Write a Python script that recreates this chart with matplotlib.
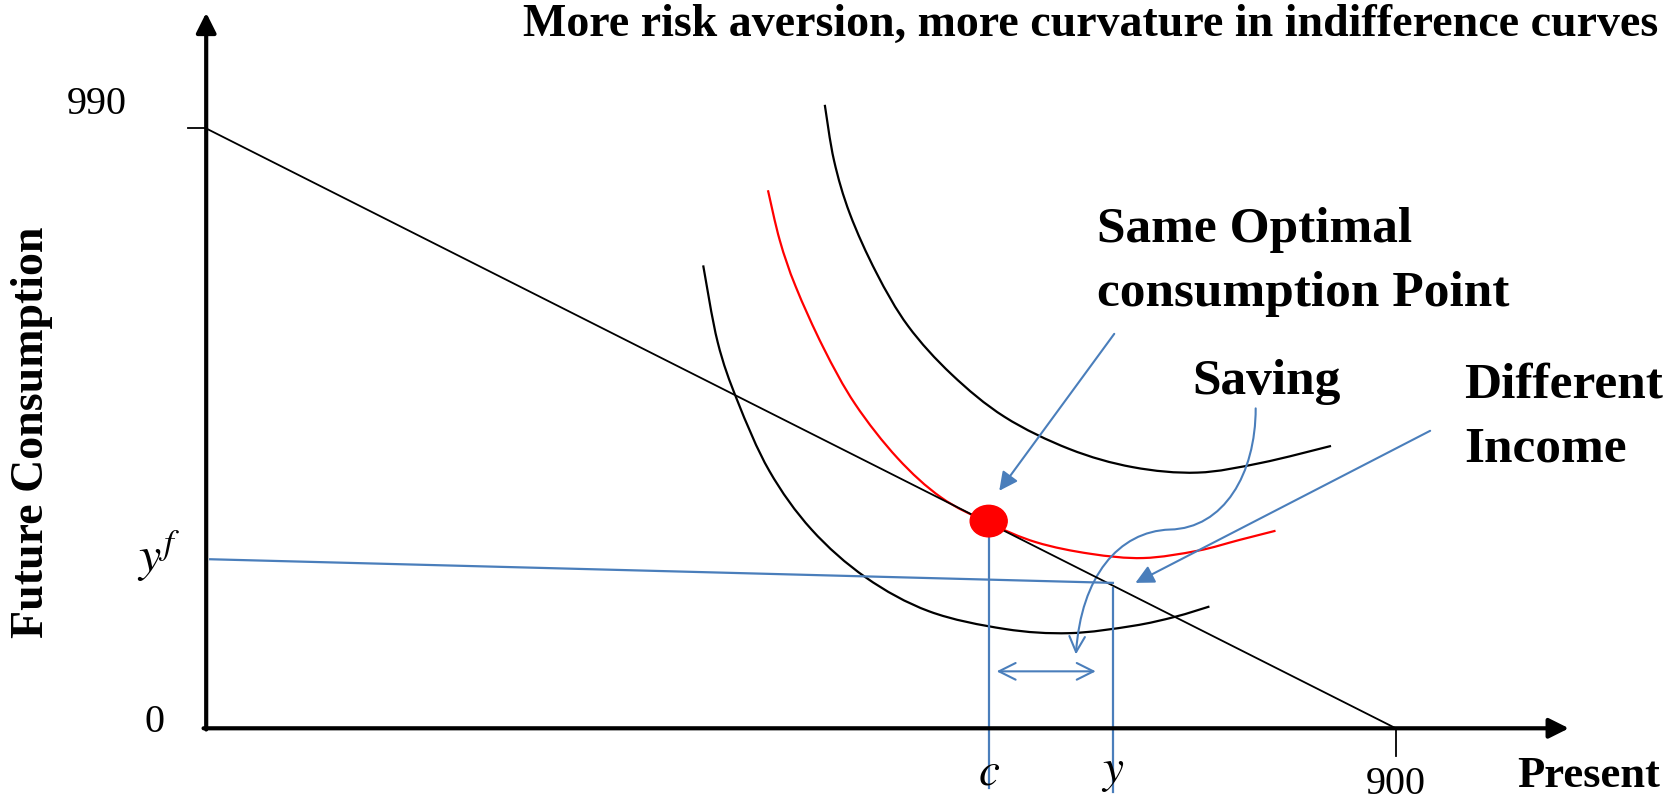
import matplotlib.pyplot as plt
from matplotlib.patches import FancyArrowPatch, PathPatch, Ellipse
from matplotlib.path import Path

# budget line end points (present, future)
budget_x = [0, 900]
budget_y = [990, 0]

# indifference curves
low_x = [376, 387, 402, 426, 458, 499, 547, 604, 653, 701, 733, 759]
low_y = [764, 637, 540, 425, 328, 249, 193, 164, 157, 169, 184, 201]

red_x = [425, 434, 446, 467, 491, 523, 556, 592, 628, 669, 709, 750, 782, 809]
red_y = [888, 805, 729, 628, 535, 446, 381, 339, 307, 288, 281, 293, 311, 326]

high_x = [468, 475, 487, 507, 531, 564, 604, 653, 701, 750, 798, 851]
high_y = [1029, 937, 849, 752, 664, 584, 514, 461, 431, 422, 438, 466]

# optimum and endowment
c_val, c_fut = 592, 342
y_val, yf_left, yf_right = 686, 279, 240

blue = '#4A7EBB'
serif = ['Liberation Serif', 'DejaVu Serif']
plt.rcParams['mathtext.fontset'] = 'stix'


def smooth_path(xs, ys):
    # catmull-rom through the read points, drawn as cubic bezier pieces
    pts = list(zip(xs, ys))
    verts = [pts[0]]
    codes = [Path.MOVETO]
    for i in range(len(pts) - 1):
        p0 = pts[i - 1] if i > 0 else pts[i]
        p1, p2 = pts[i], pts[i + 1]
        p3 = pts[i + 2] if i + 2 < len(pts) else pts[i + 1]
        c1 = (p1[0] + (p2[0] - p0[0]) / 6, p1[1] + (p2[1] - p0[1]) / 6)
        c2 = (p2[0] - (p3[0] - p1[0]) / 6, p2[1] - (p3[1] - p1[1]) / 6)
        verts += [c1, c2, p2]
        codes += [Path.CURVE4] * 3
    return Path(verts, codes)


fig = plt.figure(figsize=(16.76, 8.01), dpi=100)
ax = fig.add_axes([0, 0, 1, 1])
ax.set_xlim(-156, 1112)
ax.set_ylim(-120, 1202)
ax.axis('off')

# axes with arrows
ax.annotate('', xy=(1031, 0), xytext=(-2, 0),
            arrowprops=dict(arrowstyle='-|>', lw=3, color='black', mutation_scale=30, shrinkA=0, shrinkB=0))
ax.annotate('', xy=(0, 1181), xytext=(0, -2),
            arrowprops=dict(arrowstyle='-|>', lw=3, color='black', mutation_scale=30, shrinkA=0, shrinkB=0))
ax.plot([-14, 0], [990, 990], color='black', lw=1.3)
ax.plot([900, 900], [0, -45], color='black', lw=1.3)

# budget line and curves
ax.plot(budget_x, budget_y, color='black', lw=1.3)
for xs, ys, col in [(low_x, low_y, 'black'), (red_x, red_y, 'red'), (high_x, high_y, 'black')]:
    ax.add_patch(PathPatch(smooth_path(xs, ys), facecolor='none', edgecolor=col, lw=1.6))

# endowment and saving lines
ax.plot([3, y_val], [yf_left, yf_right], color=blue, lw=1.6)
ax.plot([c_val, c_val], [c_fut, -99], color=blue, lw=1.6)
ax.plot([y_val, y_val], [232, -105], color=blue, lw=1.6)
ax.annotate('', xy=(598, 94), xytext=(673, 94),
            arrowprops=dict(arrowstyle='<->', lw=1.5, color=blue, mutation_scale=30, shrinkA=0, shrinkB=0))

ax.add_patch(Ellipse((c_val, c_fut), 28, 52, color='red', zorder=5))

# annotation arrows
ax.annotate('', xy=(600, 392), xytext=(687, 651),
            arrowprops=dict(arrowstyle='-|>', lw=1.5, color=blue, mutation_scale=28, shrinkA=0, shrinkB=0))
ax.annotate('', xy=(703, 240), xytext=(926, 491),
            arrowprops=dict(arrowstyle='-|>', lw=1.5, color=blue, mutation_scale=28, shrinkA=0, shrinkB=0))
saving_path = Path([(794, 528), (794, 420), (770, 330), (729, 328),
                    (690, 325), (662, 250), (658, 122)],
                   [Path.MOVETO, Path.CURVE4, Path.CURVE4, Path.CURVE4,
                    Path.CURVE4, Path.CURVE4, Path.CURVE4])
ax.add_patch(FancyArrowPatch(path=saving_path, arrowstyle='->', lw=1.5, color=blue, mutation_scale=28))

# texts
ax.text(240, 1161, 'More risk aversion, more curvature in indifference curves',
        family=serif, fontweight='bold', fontsize=33, ha='left', va='center')
ax.text(-132, 489, 'Future Consumption', family=serif, fontweight='bold', fontsize=33,
        rotation=90, ha='center', va='center')
ax.text(-83, 1030, '990', family=serif, fontsize=29, ha='center', va='center')
ax.text(-39, 10, '0', family=serif, fontsize=29, ha='center', va='center')
ax.text(900, -92, '900', family=serif, fontsize=29, ha='center', va='center')
ax.text(-36, 285, r'$y^f$', fontsize=36, ha='center', va='center')
ax.text(c_val, -72, r'$c$', fontsize=34, ha='center', va='center')
ax.text(y_val, -72, r'$y$', fontsize=34, ha='center', va='center')
ax.text(992, -78, 'Present', family=serif, fontweight='bold', fontsize=32, ha='left', va='center')
ax.text(674, 822, 'Same Optimal', family=serif, fontweight='bold', fontsize=37, ha='left', va='center')
ax.text(674, 716, 'consumption Point', family=serif, fontweight='bold', fontsize=37, ha='left', va='center')
ax.text(746, 572, 'Saving', family=serif, fontweight='bold', fontsize=37, ha='left', va='center')
ax.text(952, 566, 'Different', family=serif, fontweight='bold', fontsize=37, ha='left', va='center')
ax.text(952, 460, 'Income', family=serif, fontweight='bold', fontsize=37, ha='left', va='center')

fig.savefig('out.png', dpi=100)
